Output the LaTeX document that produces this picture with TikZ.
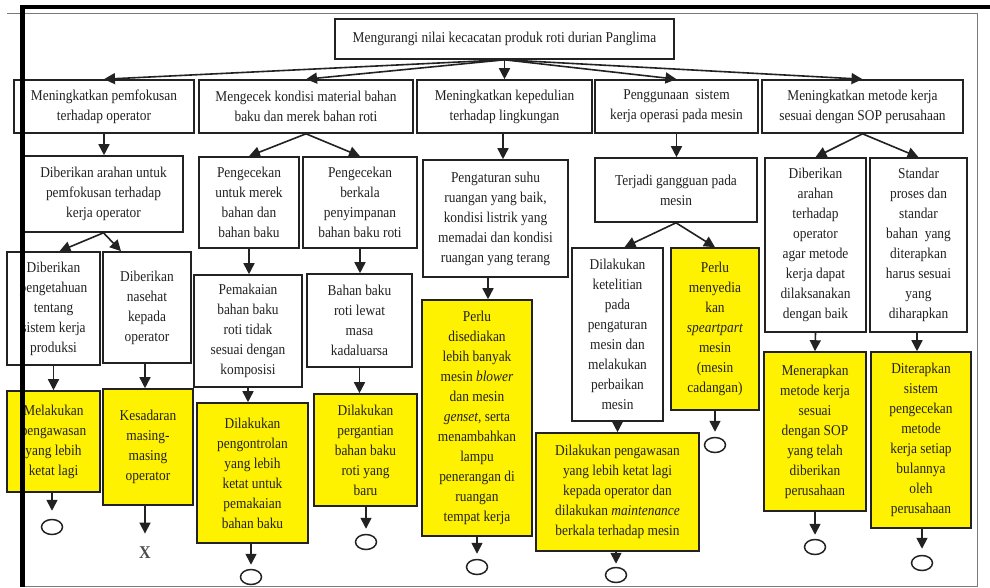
\documentclass[tikz,border=0pt]{standalone}
\usepackage{fontspec}
\setmainfont{Liberation Serif}[FakeStretch=0.893]
\usetikzlibrary{arrows.meta,shapes.geometric,calc}
\definecolor{inkgray}{HTML}{222222}
\definecolor{framegray}{HTML}{7A7A7A}

\begin{document}
\begin{tikzpicture}[x=1pt,y=-1pt]
    \tikzset{
        boxw/.style={draw=inkgray,line width=1.6pt,fill=white,align=center,inner sep=0pt,
            font=\fontsize{15}{20}\selectfont,text=inkgray},
        boxy/.style={boxw,fill=yellow},
        arr/.style={-{Triangle[length=11pt,width=11pt]},line width=1.6pt,draw=inkgray},
        endmark/.style={ellipse,draw=inkgray,line width=1.5pt,minimum width=21pt,minimum height=15pt,inner sep=0pt}
    }
    \useasboundingbox (0,0) rectangle (990,587);
    \fill[white] (0,0) rectangle (990,587);
    % outer frame
    \draw[framegray,line width=1pt] (7,13) -- (977,13) -- (977,586) -- (22,586);

    % goal and main actions
    \node[boxw,minimum width=339,minimum height=40] (top) at (504.5,39) {Mengurangi nilai kecacatan produk roti durian Panglima};
    \node[boxw,minimum width=180,minimum height=53] (A) at (104,106.5) {Meningkatkan pemfokusan\\terhadap operator};
    \node[boxw,minimum width=214,minimum height=53] (B) at (306,106.5) {Mengecek kondisi material bahan\\baku dan merek bahan roti};
    \node[boxw,minimum width=175,minimum height=53] (C) at (504.5,106.5) {Meningkatkan kepedulian\\terhadap lingkungan};
    \node[boxw,minimum width=163,minimum height=53] (D) at (676.5,106.5) {Penggunaan\ \ sistem\\kerja operasi pada mesin};
    \node[boxw,minimum width=201,minimum height=53] (E) at (862.5,106.5) {Meningkatkan metode kerja\\sesuai dengan SOP perusahaan};
    \foreach \n in {A,B,C,D,E}
        \draw[arr] (top.south) -- (\n.north);

    % operator branch
    \node[boxw,minimum width=159,minimum height=76] (A2) at (103.5,194) {Diberikan arahan untuk\\pemfokusan terhadap\\kerja operator};
    \node[boxw,minimum width=93,minimum height=113] (A3a) at (53.5,308.5) {Diberikan\\pengetahuan\\tentang\\sistem kerja\\produksi};
    \node[boxw,minimum width=88,minimum height=111] (A3b) at (147,307.5) {Diberikan\\nasehat\\kepada\\operator};
    \node[boxy,minimum width=93,minimum height=101] (A4a) at (53.5,441.5) {Melakukan\\pengawasan\\yang lebih\\ketat lagi};
    \node[boxy,minimum width=90,minimum height=116] (A4b) at (148,447) {Kesadaran\\masing-\\masing\\operator};
    \node[endmark] (cA) at (52,527) {};
    \node[font=\fontsize{18}{20}\selectfont\bfseries,text=black!70] (xA) at (145,553) {X};
    \draw[arr] (A.south) -- (A.south |- A2.north);
    \draw[arr] (A2.south) -- ($(A3a.north)+(6,0)$);
    \draw[arr] (A2.south) -- ($(A3b.north)+(-26,0)$);
    \draw[arr] (A3a.south) -- (A3a.south |- A4a.north);
    \draw[arr] ($(A3b.south)+(-2,0)$) -- ($(A4b.north)+(-3,0)$);
    \draw[arr,shorten >=8pt] (cA.north |- A4a.south) -- (cA.north);
    \draw[arr,shorten >=10pt] (xA.north |- A4b.south) -- (xA.north);

    % material branch
    \node[boxw,minimum width=100,minimum height=91] (B2a) at (249,202.5) {Pengecekan\\untuk merek\\bahan dan\\bahan baku};
    \node[boxw,minimum width=114,minimum height=91] (B2b) at (360,202.5) {Pengecekan\\berkala\\penyimpanan\\bahan baku roti};
    \node[boxw,minimum width=108,minimum height=112] (B3a) at (248,331) {Pemakaian\\bahan baku\\roti tidak\\sesuai dengan\\komposisi};
    \node[boxw,minimum width=105,minimum height=93] (B3b) at (359.5,320.5) {Bahan baku\\roti lewat\\masa\\kadaluarsa};
    \node[boxy,minimum width=111,minimum height=140] (B4a) at (252.5,473) {Dilakukan\\pengontrolan\\yang lebih\\ketat untuk\\pemakaian\\bahan baku};
    \node[boxy,minimum width=103,minimum height=112] (B4b) at (365.5,450) {Dilakukan\\pergantian\\bahan baku\\roti yang\\baru};
    \node[endmark] (cB) at (251,577) {};
    \node[endmark] (cBb) at (366,542) {};
    \draw[arr] (B.south) -- (B2a.north);
    \draw[arr] (B.south) -- (B2b.north);
    \draw[arr] (B2a.south) -- (B2a.south |- B3a.north);
    \draw[arr] (B2b.south) -- (B2b.south |- B3b.north);
    \draw[arr] (B3a.south) -- (B3a.south |- B4a.north);
    \draw[arr] (B3b.south) -- (B3b.south |- B4b.north);
    \draw[arr,shorten >=4pt] (cB.north |- B4a.south) -- (cB.north);
    \draw[arr,shorten >=5pt] (cBb.north |- B4b.south) -- (cBb.north);

    % environment branch
    \node[boxw,minimum width=145,minimum height=117] (C2) at (495.5,218.5) {Pengaturan suhu\\ruangan yang baik,\\kondisi listrik yang\\memadai dan kondisi\\ruangan yang terang};
    \node[boxy,minimum width=110,minimum height=236] (C3) at (477,418) {Perlu\\disediakan\\lebih banyak\\mesin \textit{blower}\\dan mesin\\\textit{genset}, serta\\menambahkan\\lampu\\penerangan di\\ruangan\\tempat kerja};
    \node[endmark] (cC) at (477,567) {};
    \draw[arr] ($(C.south)+(-1.5,0)$) -- ($(C2.north)+(7.5,0)$);
    \draw[arr] ($(C2.south)+(-7.5,0)$) -- ($(C3.north)+(11,0)$);
    \draw[arr,shorten >=5pt] (C3.south) -- (cC.north);

    % machine branch
    \node[boxw,minimum width=162,minimum height=64] (D2) at (676,190) {Terjadi gangguan pada\\mesin};
    \node[boxw,minimum width=91,minimum height=173] (D3a) at (617.5,334.5) {Dilakukan\\ketelitian\\pada\\pengaturan\\mesin dan\\melakukan\\perbaikan\\mesin};
    \node[boxy,minimum width=88,minimum height=162] (D3b) at (715,329) {Perlu\\menyedia\\kan\\\textit{speartpart}\\mesin\\(mesin\\cadangan)};
    \node[boxy,minimum width=163,minimum height=118] (D4) at (617.5,492) {Dilakukan pengawasan\\yang lebih ketat lagi\\kepada operator dan\\dilakukan \textit{maintenance}\\berkala terhadap mesin};
    \node[endmark] (cD) at (616,575) {};
    \node[endmark] (cDb) at (715,445) {};
    \draw[arr] (D.south) -- (D.south |- D2.north);
    \draw[arr] (D2.south) -- ($(D3a.north)+(7,0)$);
    \draw[arr] (D2.south) -- (D3b.north);
    \draw[arr] (D3a.south) -- (D3a.south |- D4.north);
    \draw[arr,shorten >=3pt] (cD.north |- D4.south) -- (cD.north);
    \draw[arr,shorten >=5pt] (D3b.south) -- (cDb.north);

    % SOP branch
    \node[boxw,minimum width=101,minimum height=174] (E2a) at (815.5,245) {Diberikan\\arahan\\terhadap\\operator\\agar metode\\kerja dapat\\dilaksanakan\\dengan baik};
    \node[boxw,minimum width=97,minimum height=174] (E2b) at (918.5,245) {Standar\\proses dan\\standar\\bahan\ \ yang\\diterapkan\\harus sesuai\\yang\\diharapkan};
    \node[boxy,minimum width=102,minimum height=159] (E3a) at (815,431.5) {Menerapkan\\metode kerja\\sesuai\\dengan SOP\\yang telah\\diberikan\\perusahaan};
    \node[boxy,minimum width=100,minimum height=176] (E3b) at (921,440) {Diterapkan\\sistem\\pengecekan\\metode\\kerja setiap\\bulannya\\oleh\\perusahaan};
    \node[endmark] (cE) at (815,547) {};
    \node[endmark] (cEb) at (922,563) {};
    \draw[arr] (E.south) -- (E2a.north);
    \draw[arr] (E.south) -- (E2b.north);
    \draw[arr] (E2a.south) -- (E3a.north);
    \draw[arr] ($(E2b.south)+(-1.5,0)$) -- ($(E3b.north)+(-4,0)$);
    \draw[arr,shorten >=4pt] (E3a.south) -- (cE.north);
    \draw[arr,shorten >=6pt] (cEb.north |- E3b.south) -- (cEb.north);

    % crop marks over the page
    \draw[framegray,line width=1pt] (7,13) -- (22,13);
    \draw[black,line width=4pt] (22,7) -- (990,7);
    \draw[black,line width=5pt] (22,5) -- (22,587);
\end{tikzpicture}
\end{document}
